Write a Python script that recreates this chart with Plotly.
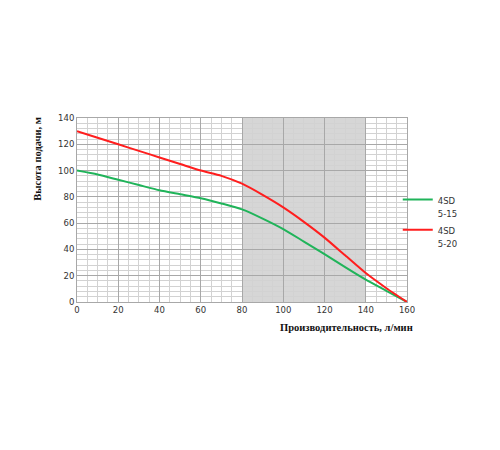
import plotly.graph_objects as go

# flow, l/min
flow = [0, 10, 20, 30, 40, 50, 60, 70, 80, 90, 100, 110, 120, 130, 140, 150, 160]
# head, m
head_5_15 = [100, 97, 93, 89, 85, 82, 79, 75, 70.5, 63.5, 55.5, 46, 36.5, 26.5, 17, 8.5, 0]
head_5_20 = [130, 125, 120, 115, 110, 105, 100, 96, 90, 81.5, 72, 61, 49, 35.5, 22, 10.5, 0]

names = ["4SD<br>5-15", "4SD<br>5-20"]
colors = ["#20b45a", "#ff1e1e"]

fig = go.Figure()

for ys, nm, c in zip([head_5_15, head_5_20], names, colors):
    label = "<span style='font-size:8.5px'>" + nm.replace("<br>", "</span><br><span style='font-size:8.5px'>") + "</span>"
    fig.add_trace(go.Scatter(x=flow, y=ys, name=label, mode="lines",
                             line=dict(color=c, width=2, shape="spline", smoothing=0.6)))

# working zone
fig.add_shape(type="rect", xref="x", yref="y", x0=80, x1=140, y0=0, y1=140,
              fillcolor="#d6d6d6", line=dict(width=0), layer="below")

tick_font = dict(family="DejaVu Sans, sans-serif", size=8.5, color="#333")

fig.update_xaxes(range=[0, 160], dtick=20, tickfont=tick_font,
                 showgrid=True, gridcolor="#a8a8a8", gridwidth=1,
                 minor=dict(dtick=5, showgrid=True, gridcolor="#d2d2d2"),
                 zeroline=False, showline=True, linecolor="#a8a8a8", mirror=True,
                 ticks="", fixedrange=True)
fig.update_yaxes(range=[0, 140], dtick=20, tickfont=tick_font,
                 showgrid=True, gridcolor="#a8a8a8", gridwidth=1,
                 minor=dict(dtick=4, showgrid=True, gridcolor="#d2d2d2"),
                 zeroline=False, showline=True, linecolor="#a8a8a8", mirror=True,
                 ticks="", fixedrange=True)

title_font = dict(family="Liberation Serif, Times New Roman, serif", size=10.5, color="#111")

fig.add_annotation(text="<b>Производительность, л/мин</b>", xref="paper", yref="paper",
                   x=1.025, y=-0.1, xanchor="right", yanchor="top",
                   showarrow=False, font=title_font)
fig.add_annotation(text="<b>Высота подачи, м</b>", xref="paper", yref="paper",
                   x=-0.12, y=1.02, xanchor="center", yanchor="top", textangle=-90,
                   showarrow=False, font=title_font)

fig.update_layout(
    width=500, height=450,
    margin=dict(l=69, r=101, t=110, b=156),
    plot_bgcolor="white", paper_bgcolor="white",
    legend=dict(x=0.972, y=0.63, xanchor="left", yanchor="top", valign="top",
                font=dict(family="DejaVu Sans, sans-serif", size=10.5, color="#333"),
                tracegroupgap=6, itemwidth=30, bgcolor="rgba(0,0,0,0)"),
)

fig.write_html("out.html")
